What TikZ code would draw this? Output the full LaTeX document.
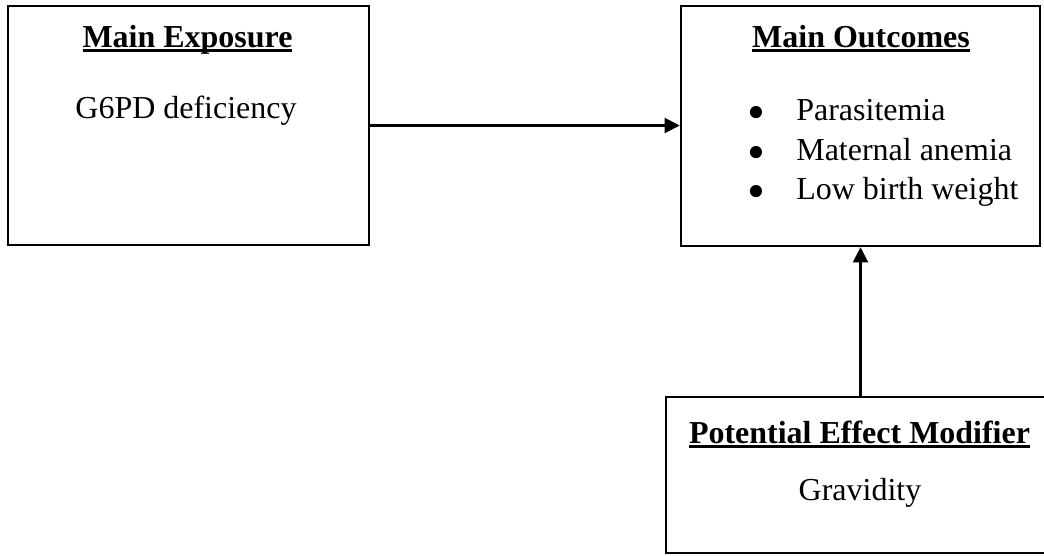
\documentclass[tikz,border=0pt]{standalone}
\usepackage{fontspec}
\setmainfont{Liberation Serif}
\usetikzlibrary{arrows.meta,positioning}

\newcommand{\subrayado}[1]{\setbox0\hbox{#1}\rlap{\rule[-0.16em]{\wd0}{0.09em}}\box0}
\newcommand{\vineta}{\makebox[0.98cm][l]{\smash{\raisebox{-0.29em}{\scalebox{1.6}{\textbullet}}}}}

\begin{document}
\begin{tikzpicture}[x=0.02cm, y=-0.02cm,
  caja/.style={draw, line width=1.5pt, inner sep=0pt},
  titulo/.style={font=\fontsize{18.2}{22.8}\selectfont\bfseries, inner sep=0pt, anchor=base},
  texto/.style={font=\fontsize{18.2}{22.8}\selectfont, inner sep=0pt, anchor=base},
  punto/.style={texto, anchor=base west},
  flecha/.style={-{Triangle[length=0.3cm, width=0.3cm]}, line width=1.2pt}
]
  \useasboundingbox (0,0) rectangle (1044,555);

  % cajas
  \node[caja, minimum width=7.22cm, minimum height=4.78cm] (expo) at (188.5,125.5) {};
  \node[caja, minimum width=7.18cm, minimum height=4.8cm] (resul) at (860.5,126) {};
  \node[caja, minimum width=7.64cm, minimum height=3.12cm] (modif) at (857,475) {};

  % textos
  \node[titulo] (texpo) at (187.5,47) {\subrayado{Main Exposure}};
  \node[texto] (g6pd) at (186,118.5) {G6PD deficiency};

  \node[titulo] (tresul) at (861,47) {\subrayado{Main Outcomes}};
  \node[punto] (par) at (747,120.5) {\vineta Parasitemia};
  \node[punto] (mat) at (747,160) {\vineta Maternal anemia};
  \node[punto] (low) at (747,199.5) {\vineta Low birth weight};

  \node[titulo] (tmodif) at (859.5,443) {\subrayado{Potential Effect Modifier}};
  \node[texto] (grav) at (860,500) {Gravidity};

  % flechas
  \draw[flecha] (expo.east) -- (expo.east -| resul.west);
  \draw[flecha] (resul.south |- modif.north) -- (resul.south);
\end{tikzpicture}
\end{document}
